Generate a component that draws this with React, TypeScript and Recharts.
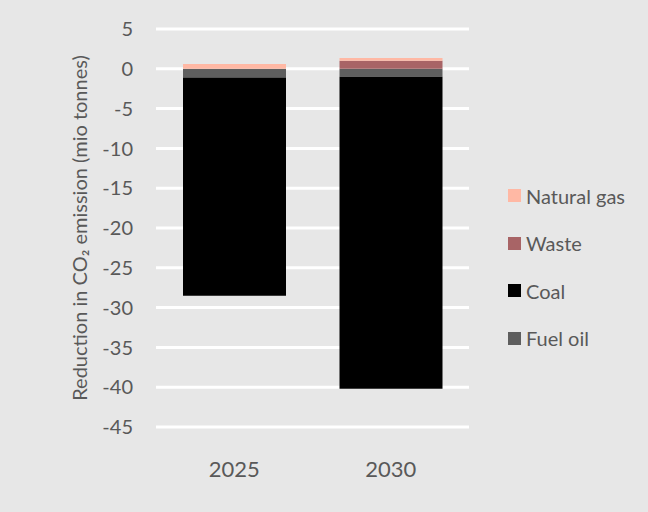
import { BarChart, Bar, XAxis, YAxis, CartesianGrid, Label } from 'recharts'

// ── Data ──────────────────────────────────────────────────────
const years = ['2025', '2030']
const fuelOil = [-1.1, -1.0]
const coal = [-27.4, -39.2]
const waste = [0, 1.0]
const naturalGas = [0.6, 0.35]
const yTicks = [5, 0, -5, -10, -15, -20, -25, -30, -35, -40, -45]

const FONT = "Lato, 'Open Sans', sans-serif"
const TEXT = '#595959'

// drawing order = stack order from the zero line outwards
const series = [
  { key: 'fuelOil', name: 'Fuel oil', color: '#5e5e5e' },
  { key: 'coal', name: 'Coal', color: '#000000' },
  { key: 'waste', name: 'Waste', color: '#a86466' },
  { key: 'naturalGas', name: 'Natural gas', color: '#ffb8a4' },
]

const data = years.map((y, i) => ({
  year: y,
  fuelOil: fuelOil[i],
  coal: coal[i],
  waste: waste[i],
  naturalGas: naturalGas[i],
}))

// ── Legend (listed top to bottom as in the source) ────────────
function LegendBox() {
  const order = ['naturalGas', 'waste', 'coal', 'fuelOil']
  return (
    <div style={{
      position: 'absolute', left: '508px', top: '172px',
      fontFamily: FONT, fontSize: '20px', color: TEXT,
    }}>
      {order.map(k => {
        const s = series.find(x => x.key === k)!
        return (
          <div key={k} style={{ display: 'flex', alignItems: 'center', height: '47.5px' }}>
            <span style={{ width: '13px', height: '13px', background: s.color, marginRight: '5px' }} />
            <span>{s.name}</span>
          </div>
        )
      })}
    </div>
  )
}

export default function App() {
  return (
    <div style={{
      position: 'fixed', left: 0, top: 0, width: '648px', height: '512px',
      background: '#e7e7e7',
    }}>
      <BarChart
        width={648}
        height={512}
        data={data}
        stackOffset="sign"
        margin={{ top: 29, right: 179, left: 0, bottom: 45 }}
        barSize={103}
      >
        <CartesianGrid horizontal vertical={false} stroke="#ffffff" strokeWidth={3} />
        <XAxis
          dataKey="year"
          axisLine={false}
          tickLine={false}
          height={40}
          tickMargin={28}
          tick={{ fill: TEXT, fontSize: 22, fontFamily: FONT }}
        />
        <YAxis
          type="number"
          domain={[-45, 5]}
          ticks={yTicks}
          interval={0}
          width={156}
          axisLine={false}
          tickLine={false}
          tickMargin={17}
          tick={{ fill: TEXT, fontSize: 20, fontFamily: FONT }}
        >
          <Label
            value="Reduction in CO₂ emission (mio tonnes)"
            angle={-90}
            position="center"
            dx={2}
            style={{ fill: TEXT, fontSize: 20, fontFamily: FONT }}
          />
        </YAxis>
        {series.map(s => (
          <Bar
            key={s.key}
            dataKey={s.key}
            name={s.name}
            stackId="a"
            fill={s.color}
            isAnimationActive={false}
          />
        ))}
      </BarChart>
      <LegendBox />
    </div>
  )
}
